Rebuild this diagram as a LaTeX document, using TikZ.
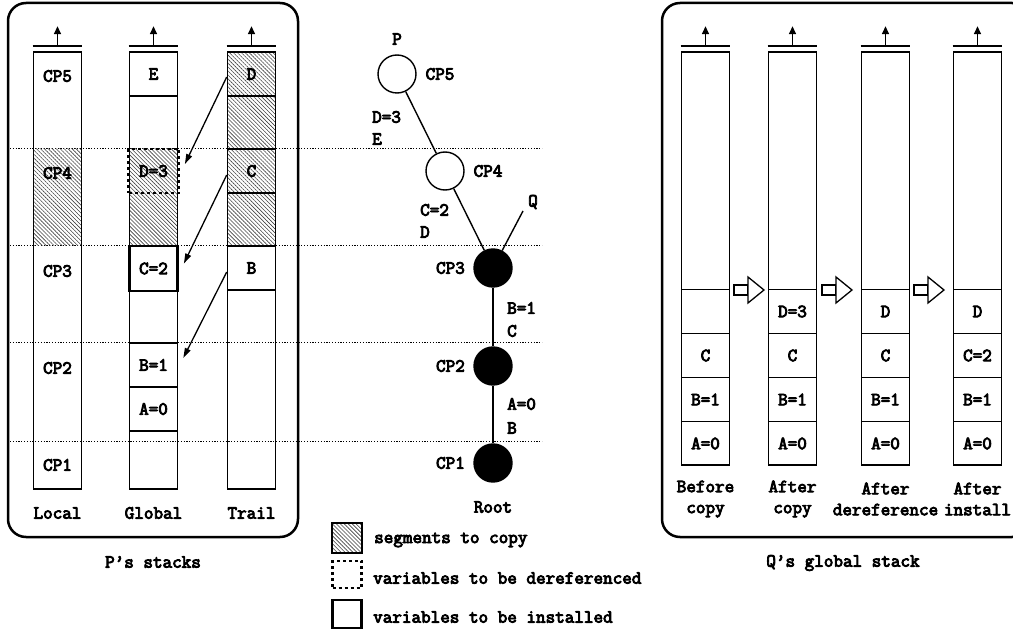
\documentclass[tikz,border=0pt]{standalone}
\usepackage{fontspec}
\newfontfamily\diaff{Latin Modern Mono}[FakeBold=4.5]
\usetikzlibrary{arrows.meta,patterns.meta}
\newcommand{\diafont}{\diaff\fontsize{18.6}{21}\selectfont}
\tikzset{
  txt/.style={font=\diafont, inner sep=0},
  col/.style={draw, line width=1.6pt, minimum width=48pt, inner sep=0},
  cell/.style={draw, line width=1.6pt, minimum width=48pt, inner sep=0, font=\diafont},
  hatch/.style={pattern={Lines[angle=-45,distance=2.8pt,line width=0.6pt]}, pattern color=black!75},
  guide/.style={line width=1pt, dash pattern=on 1.2pt off 1.6pt},
  derefbox/.style={draw, line width=2.8pt, dash pattern=on 3pt off 3pt, minimum width=50pt, inner sep=0, font=\diafont},
  instbox/.style={draw, line width=2.8pt, minimum width=48pt, inner sep=0, font=\diafont},
  uparr/.style={line width=1.5pt, -{Triangle[length=8pt,width=7pt]}},
  conn/.style={line width=1.3pt, -{Triangle[length=10pt,width=6pt]}},
  panel/.style={draw, line width=2.5pt, rounded corners=18pt},
  wcirc/.style={circle, draw, line width=1.4pt, minimum size=38pt, inner sep=0},
  bcirc/.style={circle, draw, fill=black, line width=1.4pt, minimum size=38pt, inner sep=0},
  edge/.style={line width=1.4pt},
}
\begin{document}
\begin{tikzpicture}[x=1pt,y=-1pt]
\useasboundingbox (0,0) rectangle (1013,631);

% panels
\node[panel, minimum width=290pt, minimum height=534pt] (ppanel) at (153,270) {};
\node[panel, minimum width=368pt, minimum height=534pt] (qpanel) at (846,270) {};

% guide lines
\foreach \yy in {149,246,343,441} \draw[guide] (10,\yy) -- (542,\yy);

% ---------- P's stacks ----------
\fill[hatch] (33.5,149) rectangle (81.5,246);
\fill[hatch] (129.5,149) rectangle (177.5,246);
\fill[hatch] (227.5,52) rectangle (275.5,246);

\node[col, minimum height=437pt] (lcol) at (57.5,270.5) {};
\node[col, minimum height=437pt] (gcol) at (153.5,270.5) {};
\node[col, minimum height=437pt] (tcol) at (251.5,270.5) {};

\foreach \c in {lcol,gcol,tcol}{
  \draw[line width=1.6pt] ([yshift=5pt]\c.north west) -- ([yshift=5pt]\c.north east);
  \draw[uparr] ([yshift=5pt]\c.north) -- ++(0,-20);
}

% local labels
\node[txt] (cp5l) at (57.5,76) {CP5};
\node[txt] (cp4l) at (57.5,173) {CP4};
\node[txt] (cp3l) at (57.5,271) {CP3};
\node[txt] (cp2l) at (57.5,368) {CP2};
\node[txt] (cp1l) at (57.5,465) {CP1};

% global cells
\node[cell, minimum height=44pt] (gE) at (153.5,74) {E};
\node[derefbox, minimum height=44pt] (gD) at (153.5,171) {D=3};
\node[instbox, minimum height=45pt] (gC) at (153.5,268.5) {C=2};
\node[cell, minimum height=44pt] (gB) at (153.5,365) {B=1};
\node[cell, minimum height=44pt] (gA) at (153.5,409) {A=0};

% trail cells
\node[cell, minimum height=44pt] (tD) at (251.5,74) {D};
\node[cell, minimum height=53pt] (t1) at (251.5,122.5) {};
\node[cell, minimum height=44pt] (tC) at (251.5,171) {C};
\node[cell, minimum height=53pt] (t2) at (251.5,219.5) {};
\node[cell, minimum height=44pt] (tB) at (251.5,268) {B};

\draw[conn] ([yshift=-3pt]tD.west) -- ([xshift=5pt,yshift=7pt]gD.east);
\draw[conn] ([yshift=-4pt]tC.west) -- ([xshift=5pt,yshift=5pt]gC.east);
\draw[conn] ([yshift=-4pt]tB.west) -- ([xshift=5pt,yshift=7pt]gB.east);

\node[txt] (loclab) at (57.5,513) {Local};
\node[txt] (glolab) at (153.5,513) {Global};
\node[txt] (trllab) at (251.5,513) {Trail};
\node[txt] (ptitle) at (153,562) {P’s stacks};

% ---------- tree ----------
\node[wcirc] (cp5) at (397,74) {};
\node[wcirc] (cp4) at (445,171) {};
\node[bcirc] (cp3) at (493,268) {};
\node[bcirc] (cp2) at (493,366) {};
\node[bcirc] (cp1) at (493,463) {};
\coordinate (qend) at (523,211);

\draw[edge] (cp5) -- (cp4);
\draw[edge] (cp4) -- (cp3);
\draw[edge] (cp3) -- (qend);
\draw[edge] (cp3) -- (cp2);
\draw[edge] (cp2) -- (cp1);

\node[txt] (plab) at (397,39) {P};
\node[txt] (qlab) at (533,202) {Q};
\node[txt] (cp5t) at (440,74) {CP5};
\node[txt] (cp4t) at (488,171) {CP4};
\node[txt, anchor=east] (cp3t) at (465,268) {CP3};
\node[txt, anchor=east] (cp2t) at (465,366) {CP2};
\node[txt, anchor=east] (cp1t) at (465,463) {CP1};
\node[txt] (rootl) at (493,507) {Root};

\node[txt, anchor=west] (e1a) at (372,117) {D=3};
\node[txt, anchor=west] (e1b) at (372,139) {E};
\node[txt, anchor=west] (e2a) at (420,210) {C=2};
\node[txt, anchor=west] (e2b) at (420,232) {D};
\node[txt, anchor=west] (e3a) at (507,308) {B=1};
\node[txt, anchor=west] (e3b) at (507,331) {C};
\node[txt, anchor=west] (e4a) at (507,404) {A=0};
\node[txt, anchor=west] (e4b) at (507,428) {B};

% ---------- legend ----------
\node[draw, line width=1.5pt, hatch, minimum width=30pt, minimum height=30pt, inner sep=0] (leg1) at (347,538) {};
\node[draw, line width=2.8pt, dash pattern=on 3pt off 3pt, minimum width=29pt, minimum height=27pt, inner sep=0] (leg2) at (347,574.5) {};
\node[draw, line width=2.5pt, minimum width=29pt, minimum height=28pt, inner sep=0] (leg3) at (347,614) {};
\node[txt, anchor=west] (leg1t) at (374,540) {segments to copy};
\node[txt, anchor=west] (leg2t) at (373,578) {variables to be dereferenced};
\node[txt, anchor=west] (leg3t) at (373,617) {variables to be installed};

% ---------- Q's global stack ----------
\foreach \n/\x in {q1/705.5,q2/792.5,q3/885.5,q4/977.5}{
  \node[col, minimum height=413pt] (\n) at (\x,258.5) {};
  \draw[line width=1.6pt] ([yshift=5pt]\n.north west) -- ([yshift=5pt]\n.north east);
  \draw[uparr] ([yshift=5pt]\n.north) -- ++(0,-20);
  \node[cell, minimum height=44pt] (\n a) at (\x,443.5) {A=0};
  \node[cell, minimum height=44pt] (\n b) at (\x,399.5) {B=1};
}
\node[cell, minimum height=44pt] (q1c) at (705.5,355.5) {C};
\node[cell, minimum height=44pt] (q1d) at (705.5,311.5) {};
\node[cell, minimum height=44pt] (q2c) at (792.5,355.5) {C};
\node[cell, minimum height=44pt] (q2d) at (792.5,311.5) {D=3};
\node[cell, minimum height=44pt] (q3c) at (885.5,355.5) {C};
\node[cell, minimum height=44pt] (q3d) at (885.5,311.5) {D};
\node[cell, minimum height=44pt] (q4c) at (977.5,355.5) {C=2};
\node[cell, minimum height=44pt] (q4d) at (977.5,311.5) {D};

% block arrows
\foreach \a in {734,822,914}{
  \draw[line width=1.3pt, fill=white] (\a,285) rectangle (\a+14,295);
  \draw[line width=1.3pt, fill=white, line join=miter] (\a+14,277) -- (\a+30,290) -- (\a+14,303) -- cycle;
}

\node[txt, align=center] (lab1) at (705.5,499) {Before\\copy};
\node[txt, align=center] (lab2) at (792.5,499) {After\\copy};
\node[txt, align=center] (lab3) at (885.5,499) {After\\dereference};
\node[txt, align=center] (lab4) at (977.5,499) {After\\install};
\node[txt] (qtitle) at (843,563) {Q’s global stack};
\end{tikzpicture}
\end{document}
